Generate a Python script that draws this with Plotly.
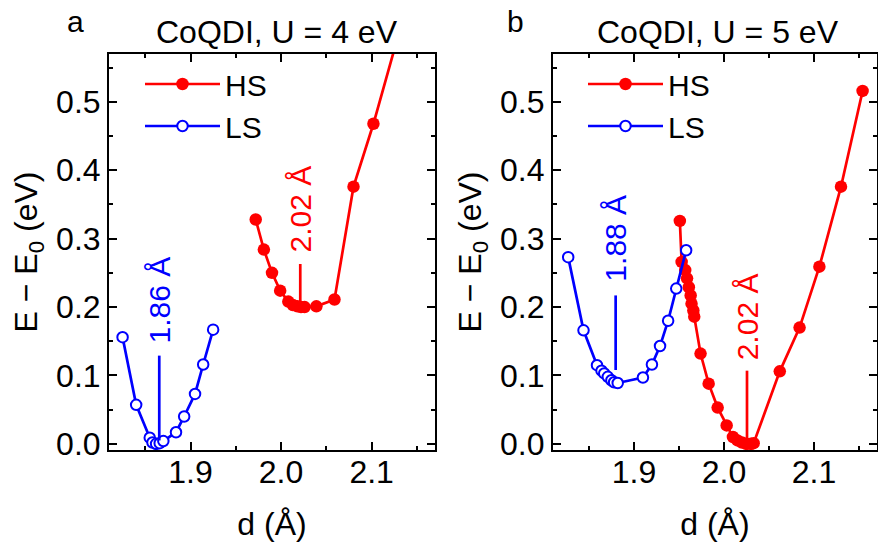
import plotly.graph_objects as go

# ---------------- data ----------------
# Panel a: U = 4 eV
hs4_d = [1.972, 1.981, 1.990, 1.999, 2.008, 2.013, 2.018, 2.022, 2.026, 2.039, 2.059, 2.080, 2.102, 2.130]
hs4_e = [0.328, 0.284, 0.250, 0.224, 0.208, 0.203, 0.201, 0.200, 0.200, 0.201, 0.211, 0.376, 0.468, 0.600]
ls4_d = [1.825, 1.840, 1.855, 1.858, 1.862, 1.866, 1.870, 1.884, 1.893, 1.905, 1.914, 1.925]
ls4_e = [0.156, 0.057, 0.009, 0.002, 0.000, 0.001, 0.004, 0.017, 0.040, 0.073, 0.116, 0.167]

# Panel b: U = 5 eV
ls5_d = [1.827, 1.844, 1.859, 1.864, 1.867, 1.871, 1.875, 1.878, 1.882, 1.910, 1.920, 1.929, 1.938, 1.947, 1.958]
ls5_e = [0.273, 0.166, 0.115, 0.107, 0.103, 0.098, 0.093, 0.090, 0.089, 0.097, 0.116, 0.143, 0.180, 0.227, 0.283]
hs5_d = [1.951, 1.953, 1.957, 1.959, 1.961, 1.963, 1.964, 1.966, 1.967, 1.974, 1.983, 1.993, 2.003,
         2.010, 2.015, 2.020, 2.025, 2.030, 2.033, 2.062, 2.084, 2.106, 2.130, 2.154]
hs5_e = [0.326, 0.266, 0.254, 0.242, 0.229, 0.217, 0.205, 0.195, 0.186, 0.132, 0.088, 0.053, 0.027,
         0.010, 0.005, 0.002, 0.000, 0.000, 0.001, 0.106, 0.170, 0.259, 0.376, 0.516]

# Minimum markers
min_labels = ["1.86 Å", "2.02 Å", "1.88 Å", "2.02 Å"]
min_panel = [1, 1, 2, 2]
min_d = [1.8655, 2.0212, 1.8797, 2.0256]
min_y0 = [0.005, 0.207, 0.108, 0.008]
min_y1 = [0.129, 0.263, 0.217, 0.107]
min_text_y = [0.210, 0.343, 0.301, 0.185]
min_color = ["#0000FF", "#FF0000", "#0000FF", "#FF0000"]

panel_titles = ["CoQDI, U = 4 eV", "CoQDI, U = 5 eV"]
panel_letters = ["a", "b"]

RED = "#FF0000"
BLUE = "#0000FF"
FONT = "Liberation Sans, Arial, sans-serif"
FS = 32

W, H = 878, 542
ML, MR, MT, MB = 109, 1, 54, 92
PW = W - ML - MR
PH = H - MT - MB


def px_to_paper(px, py):
    """page pixel -> paper coordinates"""
    return (px - ML) / PW, (H - MB - py) / PH


fig = go.Figure()


def add_panel(n, hs_d, hs_e, ls_d, ls_e):
    xa = "x" if n == 1 else "x2"
    ya = "y" if n == 1 else "y2"
    lg = "legend" if n == 1 else "legend2"
    fig.add_trace(go.Scatter(
        x=hs_d, y=hs_e, mode="lines+markers", name="HS", xaxis=xa, yaxis=ya, legend=lg,
        line=dict(color=RED, width=2.7),
        marker=dict(symbol="circle", size=12.5, color=RED, line=dict(width=0)),
    ))
    fig.add_trace(go.Scatter(
        x=ls_d, y=ls_e, mode="lines+markers", name="LS", xaxis=xa, yaxis=ya, legend=lg,
        line=dict(color=BLUE, width=2.7),
        marker=dict(symbol="circle", size=10.5, color="white", line=dict(width=2, color=BLUE)),
    ))


add_panel(1, hs4_d, hs4_e, ls4_d, ls4_e)
add_panel(2, hs5_d, hs5_e, ls5_d, ls5_e)

for i in range(len(min_d)):
    xa = "x" if min_panel[i] == 1 else "x2"
    ya = "y" if min_panel[i] == 1 else "y2"
    fig.add_trace(go.Scatter(
        x=[min_d[i], min_d[i]], y=[min_y0[i], min_y1[i]], mode="lines",
        line=dict(color=min_color[i], width=2.7), showlegend=False,
        xaxis=xa, yaxis=ya, hoverinfo="skip",
    ))
    fig.add_annotation(
        x=min_d[i], y=min_text_y[i], xref=xa, yref=ya, text=min_labels[i],
        textangle=-90, showarrow=False, xanchor="center", yanchor="middle",
        font=dict(family=FONT, size=30, color=min_color[i]),
    )

axis_common = dict(
    showline=True, linecolor="black", linewidth=2, mirror="allticks",
    ticks="inside", ticklen=8, tickwidth=2, tickcolor="black", showgrid=False, zeroline=False,
    tickfont=dict(family=FONT, size=FS, color="black"), tickformat=".1f", automargin=False,
)

xcommon = dict(axis_common)
xcommon.update(range=[1.81, 2.17], tick0=1.9, dtick=0.1, ticklabelstandoff=-7,
               minor=dict(ticks="inside", ticklen=4, tickwidth=2, tickcolor="black", dtick=0.05, tick0=1.85, showgrid=False),
               title=dict(text="d (Å)", font=dict(family=FONT, size=FS, color="black"), standoff=26))
ycommon = dict(axis_common)
ycommon.update(range=[-0.009, 0.57], tick0=0, dtick=0.1,
               minor=dict(ticks="inside", ticklen=4, tickwidth=2, tickcolor="black", dtick=0.05, tick0=0, showgrid=False),
               title=dict(text="E − E<sub>0</sub> (eV)", font=dict(family=FONT, size=FS, color="black"), standoff=9))

lx1, ly1 = px_to_paper(140, 58)
lx2, ly2 = px_to_paper(583, 58)

fig.update_layout(
    width=W, height=H,
    paper_bgcolor="white", plot_bgcolor="white",
    margin=dict(l=ML, r=MR, t=MT, b=MB, autoexpand=False),
    font=dict(family=FONT, size=FS, color="black"),
    xaxis=dict(xcommon, domain=[0, 0.4245], anchor="y"),
    yaxis=dict(ycommon, domain=[0, 1], anchor="x"),
    xaxis2=dict(xcommon, domain=[0.578, 1], anchor="y2"),
    yaxis2=dict(ycommon, domain=[0, 1], anchor="x2"),
    legend=dict(x=lx1, y=ly1, xanchor="left", yanchor="top", bgcolor="rgba(0,0,0,0)",
                font=dict(family=FONT, size=30, color="black"), tracegroupgap=0, itemwidth=75),
    legend2=dict(x=lx2, y=ly2, xanchor="left", yanchor="top", bgcolor="rgba(0,0,0,0)",
                 font=dict(family=FONT, size=30, color="black"), tracegroupgap=0, itemwidth=75),
    showlegend=True,
)

title_cx = [277, 718]
for j in range(2):
    tx, ty = px_to_paper(title_cx[j], 32)
    fig.add_annotation(x=tx, y=ty, xref="paper", yref="paper", text=panel_titles[j],
                       xanchor="center", yanchor="middle", showarrow=False,
                       font=dict(family=FONT, size=FS, color="black"))

letter_px = [75, 515]
for j in range(2):
    tx, ty = px_to_paper(letter_px[j], 21)
    fig.add_annotation(x=tx, y=ty, xref="paper", yref="paper", text=panel_letters[j],
                       xanchor="center", yanchor="middle", showarrow=False,
                       font=dict(family=FONT, size=FS - 2, color="black"))

# remove the browser's default 8 px body margin so the figure fills the window exactly
fig.write_html("out.html", config={"displayModeBar": False},
               post_script="document.body.style.margin='0';")
